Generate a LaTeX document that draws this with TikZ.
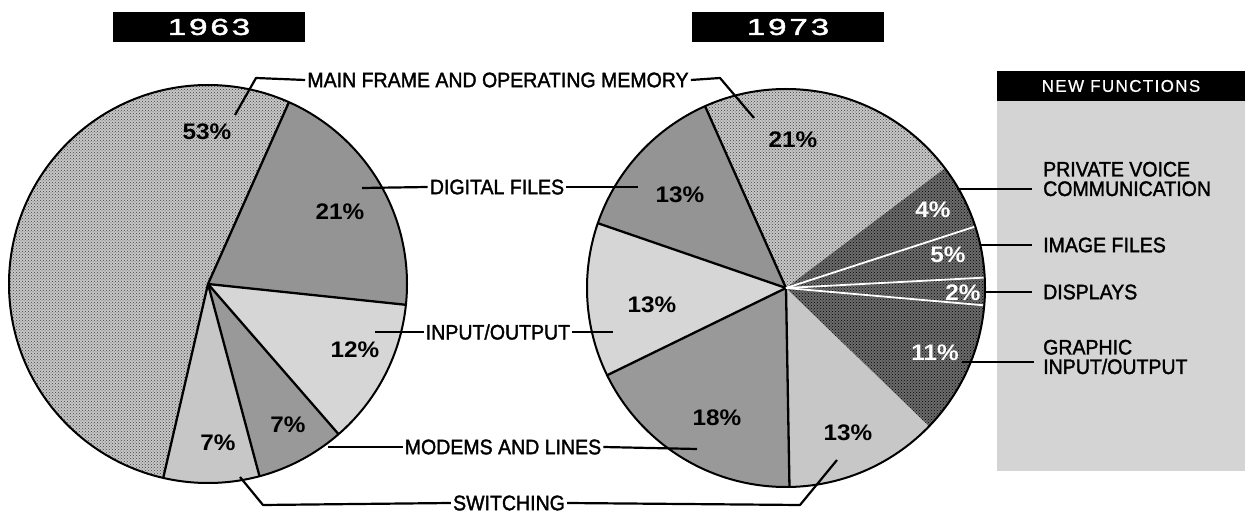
\documentclass[tikz,border=0pt]{standalone}
\usepackage{fontspec}
\setmainfont{Liberation Sans}
\newfontfamily\labelfont{Liberation Sans}[FakeStretch=0.93,FakeBold=1.6]
\newfontfamily\pctfont{Liberation Sans Bold}[FakeStretch=1.08]
\newfontfamily\yearfont{Liberation Sans}[FakeStretch=1.45,LetterSpace=12,FakeBold=2]
\newfontfamily\headfont{Liberation Sans}[LetterSpace=8,FakeBold=0.6]
\usetikzlibrary{patterns}

% one wedge of a pie: centre, radius, start angle, end angle, style
\newcommand\pieslice[5]{%
  \path[#5] (#1) -- ++(#3:#2) arc[start angle=#3, end angle=#4, radius=#2] -- cycle;}

\tikzset{
  memfill/.style={fill=black!22, postaction={pattern=crosshatch dots, pattern color=black!75}},
  digfill/.style={fill=black!42},
  iofill/.style={fill=black!16},
  modfill/.style={fill=black!40},
  swfill/.style={fill=black!22},
  newfill/.style={fill=black!58, postaction={pattern=crosshatch dots, pattern color=black}},
  edge/.style={line width=2.3pt},
  rim/.style={line width=2pt},
  whiteedge/.style={white, line width=1.8pt},
  leader/.style={line width=2.2pt, line join=round},
  lbl/.style={font=\labelfont\fontsize{21}{20}\selectfont, inner sep=2pt},
  newlbl/.style={font=\labelfont\fontsize{21}{19.5}\selectfont, align=left, anchor=west, inner sep=0pt},
  pct/.style={font=\pctfont\fontsize{22.5}{22}\selectfont, inner sep=0pt},
  wpct/.style={pct, text=white},
  yearbox/.style={fill=black, text=white, font=\yearfont\fontsize{23}{23}\selectfont,
                  minimum width=192pt, minimum height=30pt, inner sep=0pt},
}

\begin{document}
\begin{tikzpicture}[x=1pt,y=1pt]
\useasboundingbox (0,0) rectangle (1245,514);
\fill[white] (0,0) rectangle (1245,514);

% ---------- year headings ----------
\node[yearbox] (y63) at (209,487) {1963};
\node[yearbox] (y73) at (788,487) {1973};

% ---------- 1963 pie ----------
\coordinate (L) at (208,230);
\def\rL{199}
\pieslice{L}{\rL}{66}{257}{memfill}
\pieslice{L}{\rL}{-6}{66}{digfill}
\pieslice{L}{\rL}{-49}{-6}{iofill}
\pieslice{L}{\rL}{-75}{-49}{modfill}
\pieslice{L}{\rL}{-103}{-75}{swfill}
\foreach \a in {66,-6,-49,-75,-103}
  \draw[edge] (L) -- ++(\a:\rL);
\draw[rim] (L) circle[radius=\rL];

\node[pct] (p53) at (207,382) {53\%};
\node[pct] (p21a) at (340,302) {21\%};
\node[pct] (p12) at (355,164) {12\%};
\node[pct] (p7m) at (288,89) {7\%};
\node[pct] (p7s) at (218,71) {7\%};

% ---------- 1973 pie ----------
\coordinate (R) at (786,226);
\def\rR{199}
\pieslice{R}{\rR}{37}{114}{memfill}
\pieslice{R}{\rR}{114}{161}{digfill}
\pieslice{R}{\rR}{161}{206}{iofill}
\pieslice{R}{\rR}{206}{271}{modfill}
\pieslice{R}{\rR}{271}{316}{swfill}
\pieslice{R}{\rR}{-44}{37}{newfill}
\foreach \a in {114,161,206,271}
  \draw[edge] (R) -- ++(\a:\rR);
\foreach \a in {-5,3,18}
  \draw[whiteedge] (R) -- ++(\a:\rR);
\draw[rim] (R) circle[radius=\rR];

\node[pct] (p21b) at (793,374) {21\%};
\node[pct] (p13d) at (680,319) {13\%};
\node[pct] (p13i) at (652,209) {13\%};
\node[pct] (p18) at (717,96) {18\%};
\node[pct] (p13s) at (848,81) {13\%};
\node[wpct] (p4) at (933,304) {4\%};
\node[wpct] (p5) at (948,259) {5\%};
\node[wpct] (p2) at (963,221) {2\%};
\node[wpct] (p11) at (935,161) {11\%};

% ---------- new functions panel ----------
\fill[black!17] (997,43) rectangle (1245,414);
\node[fill=black, text=white, font=\headfont\fontsize{17}{17}\selectfont,
      minimum width=248pt, minimum height=30pt, inner sep=0pt] (nfhead) at (1121,428) {NEW FUNCTIONS};

\node[newlbl] (voice) at (1043,335) {PRIVATE VOICE\\COMMUNICATION};
\node[newlbl] (image) at (1043,269) {IMAGE FILES};
\node[newlbl] (disp) at (1043,222) {DISPLAYS};
\node[newlbl] (graph) at (1043,157) {GRAPHIC\\INPUT/OUTPUT};

\coordinate (cvoice) at (957,325);
\coordinate (cimage) at (980,269);
\coordinate (cdisp) at (985,222);
\coordinate (cgraph) at (962,152);
\coordinate (evoice) at (1032,325);
\coordinate (eimage) at (1032,269);
\coordinate (edisp) at (1032,222);
\coordinate (egraph) at (1034,152);
\draw[leader] (cvoice) -- (evoice);
\draw[leader] (cimage) -- (eimage);
\draw[leader] (cdisp) -- (edisp);
\draw[leader] (cgraph) -- (egraph);

% ---------- shared labels between the pies ----------
\node[lbl] (mem) at (498,434) {MAIN FRAME AND OPERATING MEMORY};
\node[lbl] (dig) at (497,327) {DIGITAL FILES};
\node[lbl] (io) at (498,182) {INPUT/OUTPUT};
\node[lbl] (mod) at (503,67) {MODEMS AND LINES};
\node[lbl] (sw) at (509,11) {SWITCHING};

\coordinate (memL1) at (256,436);
\coordinate (memL2) at (235,399);
\coordinate (memR1) at (720,436);
\coordinate (memR2) at (754,396);
\draw[leader] (mem.west) -- (memL1) -- (memL2);
\draw[leader] (mem.east) -- (memR1) -- (memR2);

\coordinate (digL) at (362,326);
\coordinate (digR) at (638,327);
\draw[leader] (dig.west) -- (digL);
\draw[leader] (dig.east) -- (digR);

\coordinate (ioL) at (375,182);
\coordinate (ioR) at (613,182);
\draw[leader] (io.west) -- (ioL);
\draw[leader] (io.east) -- (ioR);

\coordinate (modL) at (328,67);
\coordinate (modR) at (697,65);
\draw[leader] (mod.west) -- (modL);
\draw[leader] (mod.east) -- (modR);

\coordinate (swL1) at (263,9);
\coordinate (swL2) at (240,37);
\coordinate (swR1) at (800,9);
\coordinate (swR2) at (837,54);
\draw[leader] (sw.west) -- (swL1) -- (swL2);
\draw[leader] (sw.east) -- (swR1) -- (swR2);
\end{tikzpicture}
\end{document}
